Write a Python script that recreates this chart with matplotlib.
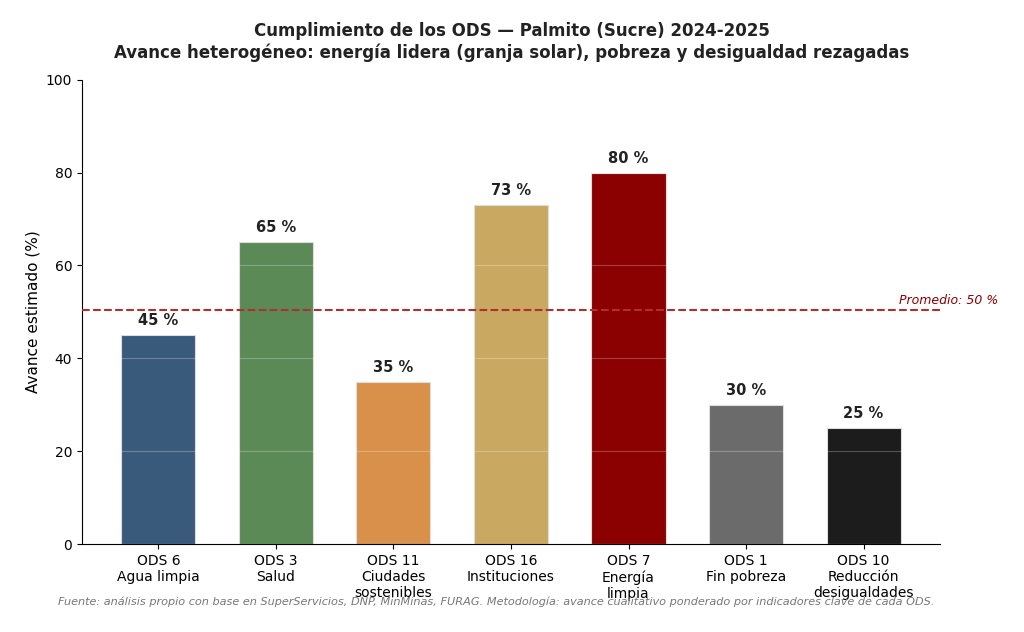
import matplotlib
matplotlib.use("Agg")
import matplotlib.pyplot as plt
import numpy as np

categories = ["ODS 6\nAgua limpia", "ODS 3\nSalud", "ODS 11\nCiudades\nsostenibles",
              "ODS 16\nInstituciones", "ODS 7\nEnergía\nlimpia", "ODS 1\nFin pobreza",
              "ODS 10\nReducción\ndesigualdades"]
values = [45, 65, 35, 73, 80, 30, 25]
colors = ["#3a5a7c", "#5b8a57", "#d9904a", "#c9a862", "#8b0000", "#6b6b6b", "#1c1c1c"]

fig = plt.figure(figsize=(10.24, 6.32), dpi=100)
ax = fig.add_axes([0.080, 0.139, 0.838, 0.735])
x = np.arange(len(categories))
ax.bar(x, values, width=0.63, color=colors, edgecolor="#dddddd", linewidth=0.8, zorder=2)
ax.set_axisbelow(False)
ax.yaxis.grid(True, color="white", alpha=0.25, linewidth=0.8, zorder=3)
for xi, v in zip(x, values):
    ax.text(xi, v + 1.5, f"{v} %", ha="center", va="bottom", fontsize=10.5, fontweight="bold", color="#222222")
avg = np.mean(values)
ax.axhline(avg, color="#b03030", linestyle="--", linewidth=1.5, zorder=4)
ax.text(6.3, avg + 0.7, f"Promedio: {avg:.0f} %", ha="left", va="bottom",
        fontsize=9, style="italic", color="#8b0000", clip_on=False)
ax.set_xlim(-0.65, 6.65)
ax.set_ylim(0, 100)
ax.set_xticks(x)
ax.set_xticklabels(categories, fontsize=10)
ax.tick_params(axis="y", labelsize=10)
ax.set_ylabel("Avance estimado (%)", fontsize=11)
for s in ["top", "right"]:
    ax.spines[s].set_visible(False)
fig.suptitle("Cumplimiento de los ODS — Palmito (Sucre) 2024-2025\n"
             "Avance heterogéneo: energía lidera (granja solar), pobreza y desigualdad rezagadas",
             fontsize=12, fontweight="bold", y=0.965, color="#222222")
fig.text(0.485, 0.043, "Fuente: análisis propio con base en SuperServicios, DNP, MinMinas, FURAG. "
         "Metodología: avance cualitativo ponderado por indicadores clave de cada ODS.",
         ha="center", fontsize=8.1, style="italic", color="#777777")
fig.savefig("out.png", dpi=100)
